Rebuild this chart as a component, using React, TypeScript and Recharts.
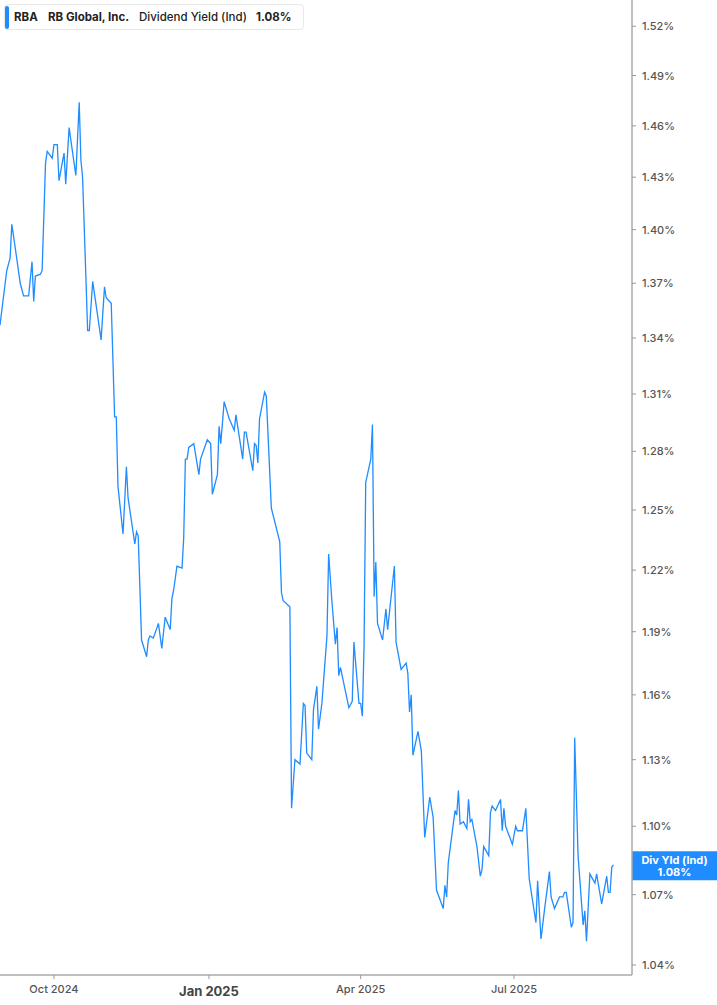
import React from 'react';
import { LineChart, Line, XAxis, YAxis, ReferenceLine } from 'recharts';

// Days since 2024-10-01
const dayOffsets = [-32,-28,-26,-25,-23,-20,-18,-15,-13,-12,-11,-8,-7,-5,-4,-1,0,2,3,6,7,9,13,15,16,17,20,21,23,28,30,31,34,36,37,38,41,43,44,48,49,50,52,55,56,57,59,62,64,66,69,70,71,73,76,77,78,79,80,83,86,87,91,93,94,97,98,99,101,104,107,108,112,113,114,118,119,120,121,122,125,126,129,134,135,136,140,141,143,146,148,149,150,153,154,156,157,159,162,163,165,167,168,169,170,175,177,178,181,182,183,184,185,188,189,190,191,192,195,197,198,202,203,206,209,210,211,212,213,216,218,220,223,225,227,229,231,232,233,234,238,239,240,241,243,245,246,247,248,251,253,254,255,258,259,260,262,265,266,267,268,272,274,275,278,280,282,286,287,289,291,294,295,297,300,302,303,304,307,308,309,311,314,315,316,318,321,322,325,328,329,330,331,332];

// Dividend yield (%)
const yieldValues = [1.347,1.377,1.384,1.403,1.390,1.370,1.363,1.363,1.382,1.360,1.374,1.375,1.377,1.438,1.445,1.441,1.449,1.449,1.428,1.444,1.426,1.459,1.431,1.474,1.440,1.430,1.344,1.344,1.371,1.339,1.368,1.362,1.359,1.298,1.298,1.262,1.238,1.272,1.256,1.233,1.239,1.237,1.186,1.178,1.186,1.188,1.187,1.194,1.182,1.197,1.191,1.206,1.210,1.222,1.221,1.236,1.276,1.276,1.282,1.284,1.268,1.276,1.286,1.284,1.258,1.268,1.293,1.284,1.306,1.297,1.291,1.299,1.276,1.290,1.290,1.270,1.284,1.283,1.274,1.297,1.311,1.309,1.251,1.234,1.209,1.205,1.202,1.108,1.130,1.128,1.156,1.155,1.133,1.130,1.153,1.164,1.144,1.156,1.188,1.228,1.204,1.184,1.192,1.169,1.173,1.154,1.157,1.185,1.156,1.156,1.150,1.183,1.264,1.276,1.294,1.207,1.224,1.194,1.186,1.201,1.191,1.222,1.185,1.172,1.175,1.170,1.152,1.160,1.132,1.143,1.134,1.095,1.113,1.104,1.072,1.068,1.064,1.074,1.069,1.084,1.107,1.105,1.116,1.101,1.102,1.099,1.112,1.102,1.103,1.091,1.078,1.081,1.091,1.087,1.106,1.109,1.107,1.112,1.098,1.108,1.100,1.092,1.100,1.098,1.098,1.108,1.077,1.058,1.076,1.051,1.063,1.080,1.069,1.064,1.069,1.069,1.071,1.071,1.056,1.058,1.140,1.087,1.057,1.063,1.050,1.079,1.075,1.079,1.066,1.078,1.071,1.071,1.082,1.083];

const xTickDays = [0, 92, 182, 273];
const xTickLabels = ['Oct 2024', 'Jan 2025', 'Apr 2025', 'Jul 2025'];
const yTicks = [1.04,1.07,1.10,1.13,1.16,1.19,1.22,1.25,1.28,1.31,1.34,1.37,1.40,1.43,1.46,1.49,1.52];

const tickerSymbol = 'RBA';
const companyName = 'RB Global, Inc.';
const metricName = 'Dividend Yield (Ind)';
const metricShort = 'Div Yld (Ind)';

const n = Math.min(dayOffsets.length, yieldValues.length);
const data = dayOffsets.slice(0, n).map((d, i) => ({ day: d, value: yieldValues[i] }));
const lastValue = yieldValues[n - 1];
const lastLabel = lastValue.toFixed(2) + '%';

const LINE = '#1f8cff';
const FONT = 'Inter, "Noto Sans", sans-serif';

const XTick = (props: any) => {
  const { x, y, payload } = props;
  const idx = xTickDays.indexOf(payload.value);
  const label = idx >= 0 ? xTickLabels[idx] : '';
  const isYear = label.startsWith('Jan');
  return (
    <text
      x={x}
      y={y + (isYear ? 15 : 12)}
      textAnchor="middle"
      fill={isYear ? '#444' : '#555'}
      fontSize={isYear ? 13 : 11}
      fontWeight={isYear ? 700 : 500}
      fontFamily={FONT}
    >
      {label}
    </text>
  );
};

const YTick = (props: any) => {
  const { x, y, payload } = props;
  return (
    <text x={x} y={y + 4} textAnchor="start" fill="#555" fontSize={11} fontWeight={500} fontFamily={FONT}>
      {payload.value.toFixed(2) + '%'}
    </text>
  );
};

const LastBadge = (props: any) => {
  const vb = props.viewBox || {};
  const bx = (vb.x || 0) + (vb.width || 0);
  const cy = (vb.y || 0) + 1;
  return (
    <g>
      <rect x={bx} y={cy - 14.5} width={85} height={29} fill={LINE} />
      <text x={bx + 42.5} y={cy - 2} textAnchor="middle" fill="#fff" fontSize={11} fontWeight={700} fontFamily={FONT}>
        {metricShort}
      </text>
      <text x={bx + 42.5} y={cy + 10} textAnchor="middle" fill="#fff" fontSize={11} fontWeight={700} fontFamily={FONT}>
        {lastLabel}
      </text>
    </g>
  );
};

export default function App() {
  return (
    <div style={{ position: 'absolute', left: 0, top: 0, width: 717, height: 1005, background: '#fff', fontFamily: FONT }}>
      <LineChart width={717} height={1005} data={data} margin={{ top: 0, right: 0, bottom: 0, left: 0 }}>
        <XAxis
          dataKey="day"
          type="number"
          domain={[-32, 343]}
          allowDataOverflow
          ticks={xTickDays}
          interval={0}
          height={30}
          tickSize={4}
          tickMargin={2}
          axisLine={{ stroke: '#aaa', strokeWidth: 1.5 }}
          tickLine={{ stroke: '#999' }}
          tick={<XTick />}
        />
        <YAxis
          orientation="right"
          type="number"
          scale="log"
          domain={[1.0358, 1.5362]}
          allowDataOverflow
          ticks={yTicks}
          interval={0}
          width={85}
          tickSize={4}
          tickMargin={6}
          axisLine={{ stroke: '#aaa', strokeWidth: 1.5 }}
          tickLine={{ stroke: '#999' }}
          tick={<YTick />}
        />
        <ReferenceLine y={lastValue} stroke="none" ifOverflow="visible" label={<LastBadge />} />
        <Line
          type="linear"
          dataKey="value"
          stroke={LINE}
          strokeWidth={1.3}
          dot={false}
          activeDot={false}
          isAnimationActive={false}
        />
      </LineChart>
      <div
        style={{
          position: 'absolute',
          left: 4,
          top: 4,
          width: 300,
          height: 26,
          boxSizing: 'border-box',
          border: '1px solid #e8e8e8',
          borderRadius: 4,
          background: '#fff',
          display: 'flex',
          alignItems: 'center',
          fontSize: 11.5,
          color: '#222',
          whiteSpace: 'nowrap',
        }}
      >
        <div style={{ position: 'absolute', left: 0, top: 1, width: 3.5, height: 23, background: LINE, borderRadius: 2 }} />
        <span style={{ position: 'absolute', left: 9, fontWeight: 700 }}>{tickerSymbol}</span>
        <span style={{ position: 'absolute', left: 43, fontWeight: 700 }}>{companyName}</span>
        <span style={{ position: 'absolute', left: 134, fontWeight: 500 }}>{metricName}</span>
        <span style={{ position: 'absolute', left: 251, fontWeight: 700 }}>{lastLabel}</span>
      </div>
    </div>
  );
}
